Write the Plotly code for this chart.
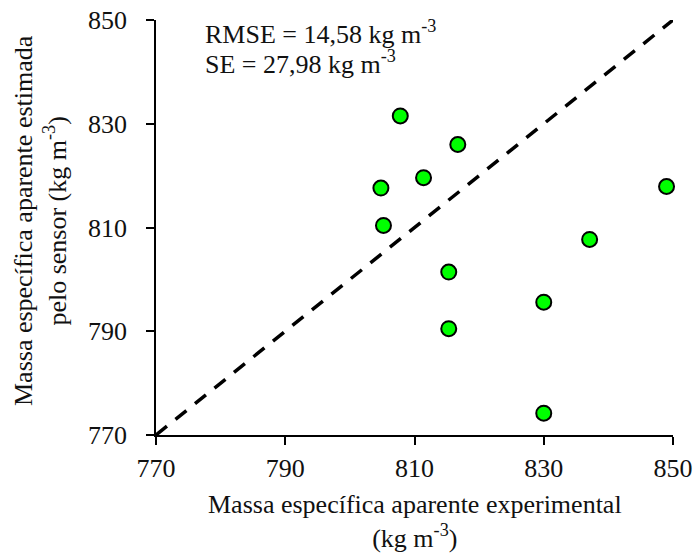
import plotly.graph_objects as go

# Data
experimental = [807.8, 816.7, 811.4, 804.8, 805.2, 815.3, 815.3, 830.0, 837.1, 849.0, 830.0]
estimated = [831.5, 826.0, 819.6, 817.6, 810.4, 801.4, 790.5, 795.6, 807.7, 817.9, 774.2]
line_x = [770, 850]
line_y = [770, 850]
tick_vals = [770, 790, 810, 830, 850]
tick_text = ["770", "790", "810", "830", "850"]

FONT = "Liberation Serif, Times New Roman, serif"
TXT = "#111111"

fig = go.Figure()
fig.add_trace(go.Scatter(
    x=line_x, y=line_y, mode="lines",
    line=dict(color="black", width=3.5, dash="14px,11px"),
    showlegend=False, cliponaxis=False, hoverinfo="skip"))
fig.add_trace(go.Scatter(
    x=experimental, y=estimated, mode="markers",
    marker=dict(size=15, color="#00FF00", line=dict(color="black", width=2)),
    showlegend=False, cliponaxis=False))

axis_common = dict(
    range=[770, 850], tickvals=tick_vals, ticktext=tick_text,
    showline=True, linecolor="black", linewidth=1.5,
    ticks="outside", ticklen=8, tickwidth=1.5, tickcolor="black",
    showgrid=False, zeroline=False, mirror=False,
    tickfont=dict(family=FONT, size=26, color=TXT),
)

fig.update_layout(
    width=694, height=553,
    margin=dict(l=156, r=21, t=20, b=118, autoexpand=False),
    paper_bgcolor="white", plot_bgcolor="white",
    xaxis=dict(axis_common, ticklabelstandoff=1),
    yaxis=dict(axis_common, ticklabelstandoff=14),
    font=dict(family=FONT, size=26, color=TXT),
    annotations=[
        dict(text="RMSE = 14,58 kg m<sup>-3</sup>",
             xref="paper", yref="paper", x=0.0909, y=0.9687,
             xanchor="left", yanchor="middle", align="left", showarrow=False,
             font=dict(family=FONT, size=26, color=TXT)),
        dict(text="SE = 27,98 kg m<sup>-3</sup>",
             xref="paper", yref="paper", x=0.0909, y=0.8964,
             xanchor="left", yanchor="middle", align="left", showarrow=False,
             font=dict(family=FONT, size=26, color=TXT)),
        dict(text="Massa específica aparente experimental<br>(kg m<sup>-3</sup>)",
             xref="paper", yref="paper", x=0.5, y=-0.2085,
             xanchor="center", yanchor="middle", align="center", showarrow=False,
             font=dict(family=FONT, size=26, color=TXT)),
        dict(text="Massa específica aparente estimada<br>pelo sensor (kg m<sup>-3</sup>)",
             xref="paper", yref="paper", x=-0.2244, y=0.518, textangle=-90,
             xanchor="center", yanchor="middle", align="center", showarrow=False,
             font=dict(family=FONT, size=26, color=TXT)),
    ],
)

fig.write_html("out.html", config={"displayModeBar": False},
               post_script="document.body.style.margin='0';")
